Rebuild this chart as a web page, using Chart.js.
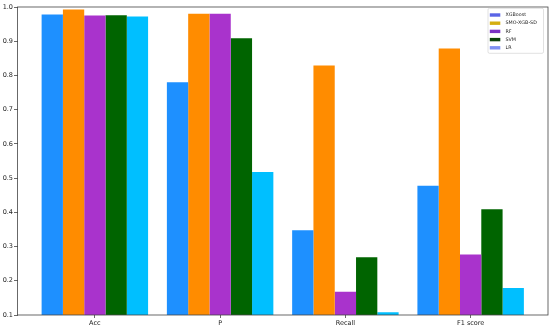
<!DOCTYPE html>
<html>
<head>
<meta charset="utf-8">
<script src="https://cdn.jsdelivr.net/npm/chart.js@4/dist/chart.umd.min.js"></script>
<style>
  html, body { margin: 0; padding: 0; background: #fff; }
  #wrap { width: 550px; height: 330px; }
</style>
</head>
<body>
<div id="wrap"><canvas id="chart"></canvas></div>
<script>
// categories on the x axis
const categories = ['Acc', 'P', 'Recall', 'F1 score'];
const models = ['XGBoost', 'SMO-XGB-SD', 'RF', 'SVM', 'LR'];

// values, one array per model
const xgboost  = [0.978, 0.78, 0.348, 0.478];
const smoXgbSd = [0.993, 0.98, 0.829, 0.879];
const rf       = [0.975, 0.98, 0.168, 0.277];
const svm      = [0.976, 0.909, 0.269, 0.409];
const lr       = [0.972, 0.518, 0.108, 0.179];

const yTicks = [0.1, 0.2, 0.3, 0.4, 0.5, 0.6, 0.7, 0.8, 0.9, 1.0];

const barColors = ['#1E90FF', '#FF8C00', '#A933CC', '#006400', '#00BFFF'];
const legendColors = ['#5A64E6', '#D4AE12', '#7A32C4', '#0A420A', '#7E90F2'];

const series = [xgboost, smoXgbSd, rf, svm, lr];
const axisColor = '#444';
const font = { family: 'DejaVu Sans', size: 6.5 };

const datasets = series.map((vals, k) => ({
  label: models[k],
  data: vals.map((v, i) => ({ x: i, y: v })),
  backgroundColor: barColors[k],
  borderWidth: 0,
  categoryPercentage: 0.85,
  barPercentage: 1.0
}));

// matplotlib style frame + small legend box in the upper right
const framePlugin = {
  id: 'frame',
  afterDraw(chart) {
    const { ctx, chartArea: a } = chart;
    ctx.save();
    ctx.strokeStyle = axisColor;
    ctx.lineWidth = 0.8;
    ctx.strokeRect(a.left, a.top, a.right - a.left, a.bottom - a.top);

    // legend
    const bx = a.right - 60, by = a.top + 1.3, bw = 55.5, bh = 45;
    ctx.fillStyle = 'rgba(255,255,255,0.85)';
    ctx.strokeStyle = '#ccc';
    ctx.lineWidth = 0.6;
    ctx.beginPath();
    ctx.roundRect(bx, by, bw, bh, 1.5);
    ctx.fill();
    ctx.stroke();
    ctx.font = '4.8px "DejaVu Sans"';
    ctx.textBaseline = 'middle';
    models.forEach((m, k) => {
      const cy = by + 6.7 + k * 8.2;
      ctx.fillStyle = legendColors[k];
      ctx.fillRect(bx + 1.8, cy - 1.7, 10.5, 3.4);
      ctx.fillStyle = '#222';
      ctx.fillText(m, bx + 17.5, cy);
    });
    ctx.restore();
  }
};

new Chart(document.getElementById('chart'), {
  type: 'bar',
  data: { datasets },
  plugins: [framePlugin],
  options: {
    responsive: true,
    maintainAspectRatio: false,
    animation: false,
    layout: { padding: { top: 7, right: 2, left: 0, bottom: 0 } },
    plugins: {
      legend: { display: false },
      tooltip: { enabled: false }
    },
    scales: {
      x: {
        type: 'linear',
        offset: false,
        min: -0.6175,
        max: 3.6175,
        afterBuildTicks: (scale) => {
          scale.ticks = categories.map((c, i) => ({ value: i }));
        },
        afterFit: (scale) => { scale.height = 15; },
        ticks: {
          autoSkip: false,
          maxRotation: 0,
          padding: 1,
          color: '#222',
          font,
          callback: (v) => categories[v]
        },
        grid: { offset: false, drawOnChartArea: false, tickLength: 3, color: axisColor, lineWidth: 0.8 },
        border: { display: false }
      },
      y: {
        min: 0.1,
        max: 1.0,
        afterBuildTicks: (scale) => {
          scale.ticks = yTicks.map(v => ({ value: v }));
        },
        afterFit: (scale) => { scale.width = 17.5; },
        ticks: {
          padding: 1,
          color: '#222',
          font,
          callback: (v) => v.toFixed(1)
        },
        grid: { drawOnChartArea: false, tickLength: 3.5, color: axisColor, lineWidth: 0.8 },
        border: { display: false }
      }
    }
  }
});
</script>
</body>
</html>
